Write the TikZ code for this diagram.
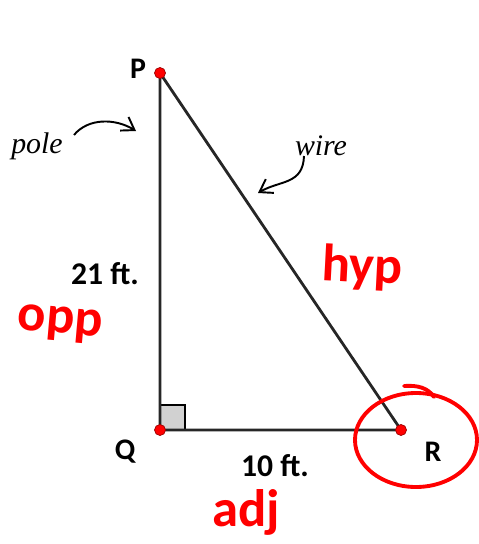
\documentclass[tikz,border=0pt]{standalone}
\usepackage{fontspec}
\setmainfont{Liberation Serif}
\setsansfont{Carlito}
\usepackage{tikz}
\usetikzlibrary{arrows.meta,positioning,calc}
\tikzset{
  vtx/.style={circle, fill=red, draw=red!60!black, inner sep=0pt, minimum size=2.2mm},
  side/.style={line width=1.6pt, black!85},
  vlbl/.style={font=\sffamily\bfseries\fontsize{17}{20}\selectfont, inner sep=1pt},
  mlbl/.style={font=\sffamily\bfseries\fontsize{18}{20}\selectfont, inner sep=1pt},
  note/.style={font=\itshape\fontsize{17}{20}\selectfont, inner sep=1pt},
  narr/.style={-{Straight Barb[length=2.4mm, width=3.2mm]}, line width=1.1pt},
  ink/.style={red, line width=2.2pt, line cap=round},
  inktxt/.style={font=\sffamily\bfseries\fontsize{30}{32}\selectfont, text=red, inner sep=0pt},
}
\begin{document}
\begin{tikzpicture}[x=0.02cm, y=-0.02cm]
\useasboundingbox (0,0) rectangle (479,544);
% triangle
\coordinate (p) at (160,73);
\coordinate (q) at (160,430);
\coordinate (r) at (401,430);
\draw[fill=black!18, thick] (q) rectangle (185,405);
\draw[side] (p) -- (q) -- (r) -- cycle;
\node[vtx] (P) at (p) {};
\node[vtx] (Q) at (q) {};
\node[vtx] (R) at (r) {};
\node[vlbl] (lP) at (138,69) {P};
\node[vlbl] (lQ) at (125,452) {Q};
\node[vlbl] (lR) at (433,452) {R};
\node[mlbl] (ht) at (105,274) {21 ft.};
\node[mlbl] (bs) at (275,466) {10 ft.};
% notes
\node[note] (pole) at (37,146) {pole};
\node[note] (wire) at (321,146) {wire};
\coordinate (polestart) at (74,135);
\coordinate (poleend) at (136,131);
\coordinate (wirestart) at (304,156);
\coordinate (wireend) at (258,193);
\draw[narr] (polestart) .. controls (88,118) and (115,118) .. (poleend);
\draw[narr] (wirestart) .. controls (303,185) and (280,180) .. (wireend);
% red marks
\node[inktxt, rotate=-3] (hyp) at (362,268) {hyp};
\node[inktxt, rotate=-5] (opp) at (60,324) {opp};
\node[inktxt] (adj) at (246,512) {adj};
\draw[ink] (416,440) ellipse (61 and 47);
\draw[ink] (404,386) .. controls (418,385) and (428,388) .. (434,397);
\end{tikzpicture}
\end{document}
